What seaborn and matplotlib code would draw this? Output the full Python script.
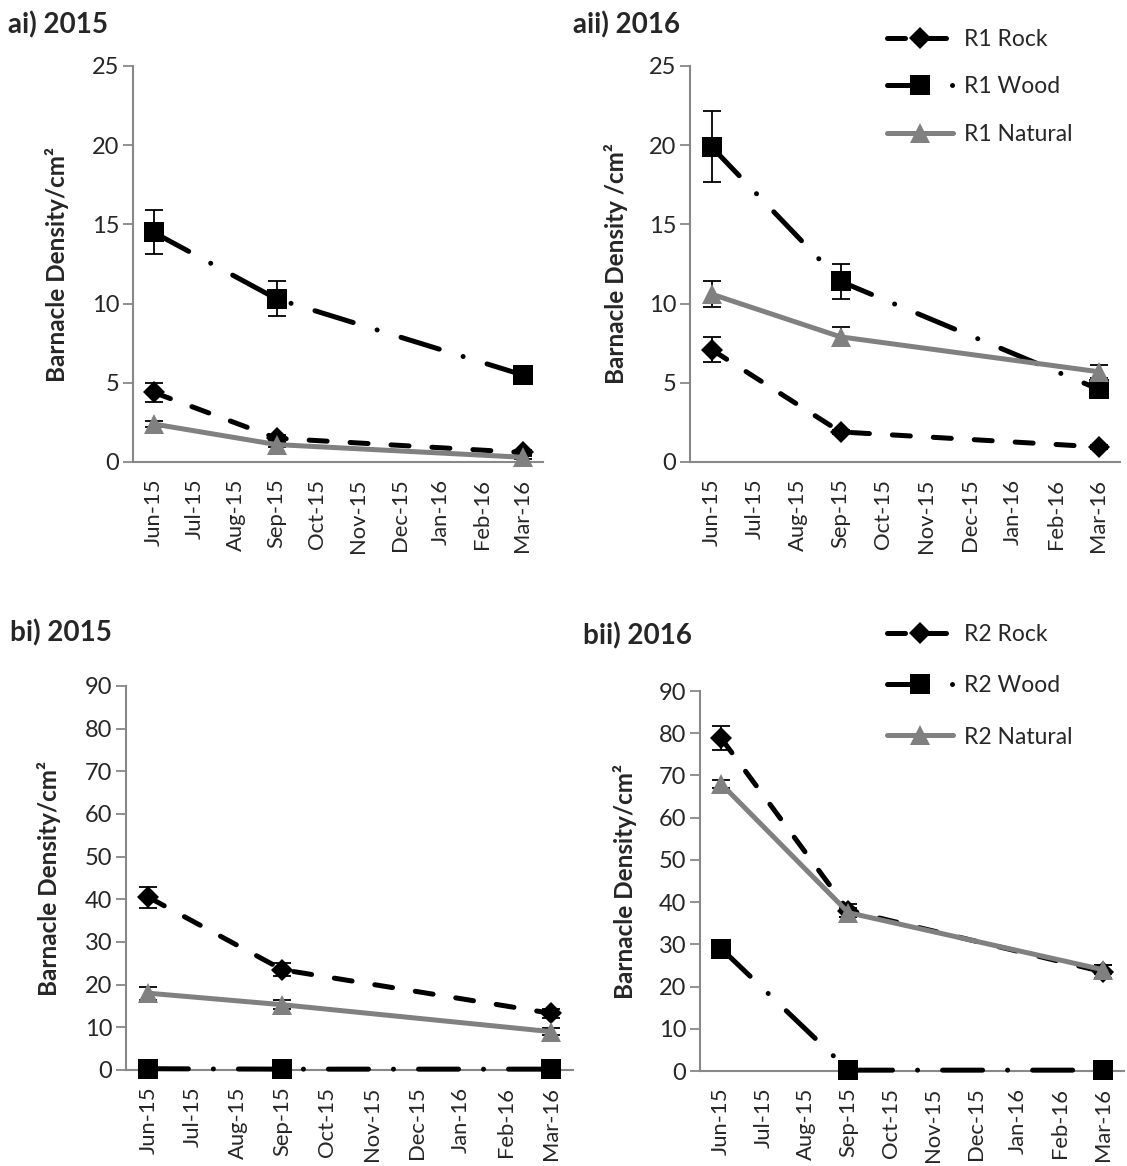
import numpy as np
import pandas as pd
import matplotlib
matplotlib.use("Agg")
import matplotlib.pyplot as plt
import seaborn as sns

# Monthly axis (Excel-style date axis: one category per month)
months = ["Jun-15", "Jul-15", "Aug-15", "Sep-15", "Oct-15",
          "Nov-15", "Dec-15", "Jan-16", "Feb-16", "Mar-16"]
sample_months = ["Jun-15", "Sep-15", "Mar-16"]

# R1, 2015 settlement
r1_2015_rock = [4.4, 1.5, 0.6]
r1_2015_rock_err = [0.6, 0.2, 0.15]
r1_2015_wood = [14.5, 10.3, 5.5]
r1_2015_wood_err = [1.4, 1.1, 0.3]
r1_2015_natural = [2.4, 1.1, 0.3]
r1_2015_natural_err = [0.2, 0.15, 0.1]

# R1, 2016 settlement
r1_2016_rock = [7.1, 1.9, 0.95]
r1_2016_rock_err = [0.8, 0.15, 0.1]
r1_2016_wood = [19.9, 11.4, 4.6]
r1_2016_wood_err = [2.25, 1.1, 0.35]
r1_2016_natural = [10.6, 7.9, 5.7]
r1_2016_natural_err = [0.8, 0.6, 0.4]

# R2, 2015 settlement
r2_2015_rock = [40.5, 23.5, 13.3]
r2_2015_rock_err = [2.5, 1.5, 1.0]
r2_2015_wood = [0.3, 0.2, 0.2]
r2_2015_wood_err = [0.1, 0.1, 0.1]
r2_2015_natural = [18.0, 15.3, 9.0]
r2_2015_natural_err = [1.5, 1.0, 0.8]

# R2, 2016 settlement
r2_2016_rock = [78.8, 38.0, 23.5]
r2_2016_rock_err = [2.8, 1.5, 1.5]
r2_2016_wood = [29.0, 0.2, 0.2]
r2_2016_wood_err = [1.5, 0.1, 0.1]
r2_2016_natural = [68.0, 37.5, 24.0]
r2_2016_natural_err = [1.0, 1.0, 1.0]

sns.set_style("white")
plt.rcParams["font.family"] = ["Lato", "DejaVu Sans"]
plt.rcParams["lines.scale_dashes"] = True

W, H = 1127, 1166
fig = plt.figure(figsize=(W / 100, H / 100), dpi=100)

GREY = "#808080"
SPINE = "#888888"
LW = 3.6
YTICK_FS = 17
XTICK_FS = 15.8

styles = {
    "Rock": dict(color="black", marker="D", ms=11, ls=(0, (3.6, 4.6))),
    "Wood": dict(color="black", marker="s", ms=14, ls=(0, (8.0, 5.0, 0.01, 5.0))),
    "Natural": dict(color=GREY, marker="^", ms=15, ls="-"),
}


def px_axes(left, right, top, bottom):
    return fig.add_axes([left / W, 1 - bottom / H, (right - left) / W, (bottom - top) / H])


def draw_panel(ax, region, data, ymax, ystep, ylabel, label_x):
    xpos = [months.index(m) for m in sample_months]
    for kind, vals, errs in data:
        st = styles[kind]
        df = pd.DataFrame({"month": xpos, "density": vals})
        ax.errorbar(xpos, vals, yerr=errs, fmt="none", ecolor="black",
                    elinewidth=1.3, capsize=6.5, capthick=1.3, zorder=2, clip_on=False)
        sns.lineplot(data=df, x="month", y="density", ax=ax, errorbar=None,
                     color=st["color"], linewidth=LW, linestyle=st["ls"],
                     marker=st["marker"], markersize=st["ms"],
                     markeredgecolor=st["color"], markeredgewidth=0,
                     dash_capstyle="round", solid_capstyle="round",
                     label=f"{region} {kind}", legend=False, zorder=3, clip_on=False)

    ax.set_xlim(-0.5, len(months) - 0.5)
    ax.set_ylim(0, ymax)
    ax.set_yticks(np.arange(0, ymax + 0.1, ystep))
    ax.set_xticks(np.arange(-0.5, len(months), 1.0))
    ax.set_xticklabels([])
    ax.set_xticks(np.arange(len(months)), minor=True)
    ax.set_xticklabels(months, minor=True, rotation=90)
    ax.tick_params(axis="x", which="major", length=7, width=1.3, color=SPINE, direction="out")
    ax.tick_params(axis="x", which="minor", length=0, pad=12, labelsize=XTICK_FS)
    ax.tick_params(axis="y", length=7, width=1.3, color=SPINE, direction="out",
                   pad=3, labelsize=YTICK_FS, left=True)
    for side in ("top", "right"):
        ax.spines[side].set_visible(False)
    for side in ("left", "bottom"):
        ax.spines[side].set_color(SPINE)
        ax.spines[side].set_linewidth(1.5)
    ax.set_xlabel("")
    ax.set_ylabel(ylabel, fontsize=17.5, fontweight="bold")
    ax.yaxis.set_label_coords(label_x, 0.5)
    ax.grid(False)


ax_ai = px_axes(133, 543, 66, 462)
draw_panel(ax_ai, "R1",
           [("Rock", r1_2015_rock, r1_2015_rock_err),
            ("Wood", r1_2015_wood, r1_2015_wood_err),
            ("Natural", r1_2015_natural, r1_2015_natural_err)],
           25, 5, "Barnacle Density/cm²", -0.155)

ax_aii = px_axes(690, 1120, 66, 462)
draw_panel(ax_aii, "R1",
           [("Rock", r1_2016_rock, r1_2016_rock_err),
            ("Wood", r1_2016_wood, r1_2016_wood_err),
            ("Natural", r1_2016_natural, r1_2016_natural_err)],
           25, 5, "Barnacle Density /cm²", -0.145)

ax_bi = px_axes(126, 573, 686, 1070)
draw_panel(ax_bi, "R2",
           [("Rock", r2_2015_rock, r2_2015_rock_err),
            ("Wood", r2_2015_wood, r2_2015_wood_err),
            ("Natural", r2_2015_natural, r2_2015_natural_err)],
           90, 10, "Barnacle Density/cm²", -0.145)

ax_bii = px_axes(700, 1124, 691, 1071)
draw_panel(ax_bii, "R2",
           [("Rock", r2_2016_rock, r2_2016_rock_err),
            ("Wood", r2_2016_wood, r2_2016_wood_err),
            ("Natural", r2_2016_natural, r2_2016_natural_err)],
           90, 10, "Barnacle Density/cm²", -0.149)

# Panel titles
for text, x, y in [("ai) 2015", 8, 25), ("aii) 2016", 573, 25),
                   ("bi) 2015", 10, 633), ("bii) 2016", 583, 636)]:
    fig.text(x / W, 1 - y / H, text, fontsize=20, fontweight="bold",
             ha="left", va="center")

# Legends (one per region, beside the 2016 panels)
for ax, top, spacing in [(ax_aii, 29, 1.15), (ax_bii, 624, 1.32)]:
    handles, labels = ax.get_legend_handles_labels()
    keep = [(h, l) for h, l in zip(handles, labels) if not l.startswith("_")]
    fig.legend([h for h, _ in keep], [l for _, l in keep],
               loc="upper left", bbox_to_anchor=(887 / W, 1 - top / H),
               frameon=False, fontsize=16.5, handlelength=2.9,
               handletextpad=0.45, labelspacing=spacing, borderpad=0,
               borderaxespad=0)

fig.savefig("out.png", dpi=100)
